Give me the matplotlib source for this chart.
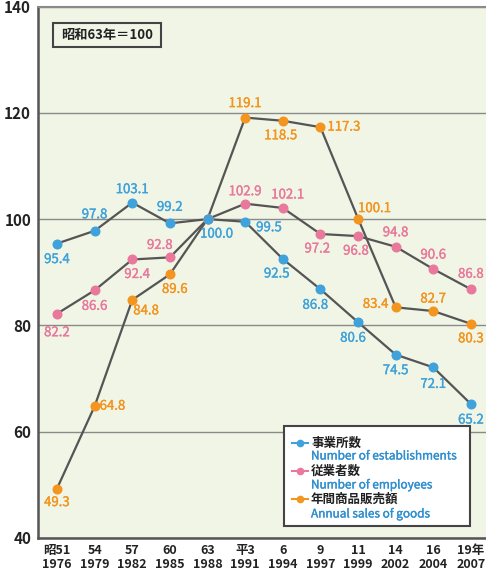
import matplotlib
matplotlib.use("Agg")
import matplotlib.pyplot as plt
from matplotlib.patches import Rectangle
from matplotlib.lines import Line2D
import matplotlib.patheffects as pe

plt.rcParams['font.family'] = ['Noto Sans CJK JP', 'DejaVu Sans']

x_labels = ["昭51\n1976", "54\n1979", "57\n1982", "60\n1985", "63\n1988", "平3\n1991",
            "6\n1994", "9\n1997", "11\n1999", "14\n2002", "16\n2004", "19年\n2007"]
establishments = [95.4, 97.8, 103.1, 99.2, 100.0, 99.5, 92.5, 86.8, 80.6, 74.5, 72.1, 65.2]
employees = [82.2, 86.6, 92.4, 92.8, 100.0, 102.9, 102.1, 97.2, 96.8, 94.8, 90.6, 86.8]
sales = [49.3, 64.8, 84.8, 89.6, 100.0, 119.1, 118.5, 117.3, 100.1, 83.4, 82.7, 80.3]
yticks = [40, 60, 80, 100, 120, 140]

BLUE = "#3FA2DA"
PINK = "#E9799C"
ORANGE = "#F3951F"
LINE = "#555555"
BG = "#F0F5E6"

W, H = 486, 577
fig = plt.figure(figsize=(W / 100, H / 100), dpi=100)
ax = fig.add_axes([38 / W, 1 - 538 / H, (W - 38) / W, (538 - 6.5) / H])
ax.set_facecolor(BG)

xs = list(range(len(x_labels)))
ax.set_xlim(-0.505, 11.4)
ax.set_ylim(40, 140)
ax.set_yticks(yticks)
ax.set_yticklabels([str(v) for v in yticks], fontsize=11, fontweight='bold', color="#222222")
ax.set_xticks(xs)
ax.set_xticklabels(x_labels, fontsize=9, fontweight='bold', color="#222222", linespacing=1.1)
ax.tick_params(length=0, pad=5)
ax.tick_params(axis='x', pad=4)
ax.grid(axis='y', color="#8a8a8a", linewidth=1.0)
ax.set_axisbelow(True)
for s in ['left', 'bottom']:
    ax.spines[s].set_color("#555555")
    ax.spines[s].set_linewidth(1.8)
ax.spines['right'].set_visible(False)
ax.spines['top'].set_color("#8a8a8a")
ax.spines['top'].set_linewidth(1.5)

# draw in order: sales, employees, establishments
for vals, col in [(sales, ORANGE), (employees, PINK), (establishments, BLUE)]:
    ax.plot(xs, vals, color=LINE, linewidth=1.6, zorder=3)
    ax.plot(xs, vals, linestyle='none', marker='o', markersize=6.2,
            markerfacecolor=col, markeredgecolor=col, zorder=4)

# label offsets (pixels): dx, dy, ha
est_off = [(0, -16, 'center'), (0, 16, 'center'), (0, 13, 'center'), (0, 16, 'center'),
           (9, -15, 'center'), (11, -6, 'left'), (-6, -15, 'center'), (-5, -16, 'center'),
           (-5, -16, 'center'), (0, -16, 'center'), (0, -17, 'center'), (0, -16, 'center')]
emp_off = [(0, -19, 'center'), (0, -16, 'center'), (5, -15, 'center'), (-10, 12, 'center'),
           None, (0, 12, 'center'), (5, 13, 'center'), (-3, -15, 'center'),
           (-2, -15, 'center'), (0, 14, 'center'), (0, 14, 'center'), (0, 15, 'center')]
sal_off = [(0, -14, 'center'), (5, 0, 'left'), (1, -11, 'left'), (5, -15, 'center'),
           None, (0, 14, 'center'), (-2, -15, 'center'), (7, 0, 'left'),
           (0, 10, 'left'), (-7, 3, 'right'), (0, 12, 'center'), (0, -15, 'center')]

for vals, offs, col in [(establishments, est_off, BLUE), (employees, emp_off, PINK), (sales, sal_off, ORANGE)]:
    for i, (v, o) in enumerate(zip(vals, offs)):
        if o is None:
            continue
        dx, dy, ha = o
        t = ax.annotate(f"{v:.1f}", (i, v), xytext=(dx, dy), textcoords='offset pixels',
                        ha=ha, va='center', fontsize=9.5, color=col, zorder=5)
        t.set_path_effects([pe.withStroke(linewidth=0.25, foreground=col)])


def fx(px):
    return px / W


def fy(py):
    return 1 - py / H


# base note box
fig.patches.append(Rectangle((fx(53), fy(47)), fx(161) - fx(53), fy(23) - fy(47),
                             transform=fig.transFigure, facecolor=BG, edgecolor="#444444",
                             linewidth=1.5, zorder=5))
fig.text(fx(107), fy(35), "昭和63年＝100", ha='center', va='center', fontsize=9.5,
         fontweight='bold', color="#222222", zorder=6)

# legend box
fig.patches.append(Rectangle((fx(284), fy(526)), fx(470) - fx(284), fy(426) - fy(526),
                             transform=fig.transFigure, facecolor="white", edgecolor="#444444",
                             linewidth=1.5, zorder=5))
legend_items = [("事業所数", "Number of establishments", BLUE, 443, 456),
                ("従業者数", "Number of employees", PINK, 471, 485),
                ("年間商品販売額", "Annual sales of goods", ORANGE, 499, 514)]
for jp, en, col, yj, ye in legend_items:
    fig.lines.append(Line2D([fx(292), fx(308)], [fy(yj), fy(yj)], transform=fig.transFigure,
                            color=col, linewidth=1.5, zorder=6))
    fig.lines.append(Line2D([fx(300)], [fy(yj)], transform=fig.transFigure, color=col,
                            marker='o', markersize=4.5, linestyle='none', zorder=7))
    fig.text(fx(311), fy(yj), jp, ha='left', va='center', fontsize=9, fontweight='bold',
             color="#222222", zorder=7)
    te = fig.text(fx(311), fy(ye), en, ha='left', va='center', fontsize=8.5, color="#2F8FD0", zorder=7)
    te.set_path_effects([pe.withStroke(linewidth=0.25, foreground="#2F8FD0")])

fig.savefig("out.png", dpi=100, facecolor="white")
